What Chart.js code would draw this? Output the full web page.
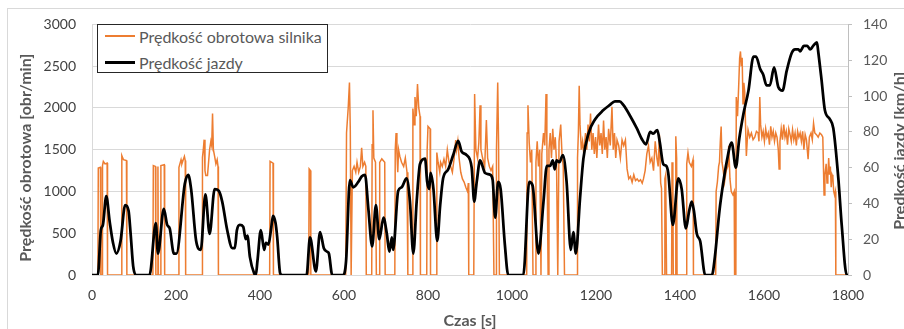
<!DOCTYPE html>
<html lang="pl">
<head>
<meta charset="utf-8">
<title>Prędkość obrotowa silnika i prędkość jazdy</title>
<script src="https://cdn.jsdelivr.net/npm/chart.js@4.4.1/dist/chart.umd.min.js"></script>
<style>
  html, body { margin: 0; padding: 0; background: #fff; }
  #wykres { position: relative; width: 904px; height: 329px; overflow: hidden; }
  #ramka { position: absolute; left: 7px; top: 8px; width: 1000px; height: 400px; border: 1px solid #d9d9d9; box-sizing: border-box; }
  #legenda { position: absolute; left: 97px; top: 24px; width: 231px; height: 49px; border: 1px solid #262626; box-sizing: border-box; background: #fff; font: 16px Lato, sans-serif; color: #595959; }
  .poz { display: flex; align-items: center; height: 26px; white-space: nowrap; }
  .poz:first-child { margin-top: -2px; }
  .probka { width: 30px; margin: 0 4px 0 7px; }
</style>
</head>
<body>
<div id="wykres">
  <div id="ramka"></div>
  <canvas id="chart"></canvas>
  <div id="legenda"></div>
</div>
<script>
// ===== dane =====
// czas [s] i prędkość jazdy [km/h]
const czasJazdy = [
  0, 14, 21, 26, 34, 42, 50, 58, 68, 79,
  87, 92, 98, 105, 137, 152, 157, 171, 179, 185,
  195, 201, 221, 229, 236, 248, 259, 270, 280, 292,
  302, 310, 322, 334, 340, 345, 352, 360, 366, 370,
  376, 386, 390, 394, 402, 410, 414, 420, 426, 431,
  437, 441, 448, 453, 511, 519, 533, 543, 552, 560,
  564, 572, 598, 605, 614, 622, 634, 642, 650, 658,
  667, 676, 684, 694, 702, 708, 714, 717, 729, 737,
  749, 757, 765, 773, 781, 793, 798, 803, 806, 813,
  822, 829, 836, 848, 860, 872, 880, 892, 904, 910,
  916, 924, 936, 948, 954, 960, 967, 973, 983, 991,
  1027, 1041, 1049, 1063, 1075, 1083, 1091, 1097, 1102, 1106,
  1113, 1121, 1130, 1140, 1146, 1152, 1162, 1170, 1182, 1198,
  1217, 1233, 1245, 1256, 1265, 1281, 1297, 1309, 1319, 1329,
  1336, 1346, 1352, 1360, 1367, 1372, 1383, 1396, 1404, 1414,
  1422, 1428, 1433, 1440, 1448, 1460, 1476, 1483, 1494, 1502,
  1511, 1523, 1533, 1541, 1551, 1563, 1575, 1581, 1591, 1598,
  1606, 1614, 1624, 1634, 1644, 1654, 1666, 1674, 1682, 1686,
  1695, 1703, 1710, 1717, 1726, 1729, 1737, 1745, 1757, 1765,
  1777, 1785, 1797, 1800
];
const predkoscJazdy = [
  0, 0, 25, 28, 44, 30, 18, 12, 19, 39,
  36, 23, 5, 0, 0, 29, 12, 37, 28, 26,
  12, 12, 51, 56, 48, 19, 14, 45, 23, 48,
  47, 41, 25, 15, 15, 25, 28, 27, 20, 22,
  10, 1, 0, 8, 25, 14, 18, 17, 25, 33,
  29, 21, 1, 0, 0, 21, 2, 24, 15, 13,
  12, 0, 0, 8, 53, 49, 52, 55, 56, 37,
  16, 39, 20, 32, 23, 13, 21, 14, 47, 49,
  54, 41, 12, 41, 62, 65, 52, 48, 57, 48,
  19, 39, 54, 59, 67, 75, 69, 67, 60, 41,
  52, 64, 57, 56, 53, 32, 52, 48, 17, 0,
  0, 52, 50, 12, 41, 61, 61, 64, 59, 64,
  63, 67, 52, 14, 24, 12, 43, 65, 79, 87,
  92, 95, 97, 97, 95, 89, 82, 76, 73, 80,
  79, 81, 74, 62, 61, 57, 28, 54, 48, 26,
  36, 41, 36, 23, 19, 0, 0, 10, 36, 50,
  63, 74, 60, 76, 90, 103, 122, 122, 115, 112,
  106, 106, 116, 105, 103, 114, 124, 126, 126, 125,
  128, 128, 126, 128, 130, 125, 109, 92, 87, 82,
  54, 28, 0, 0
];

// czas [s] i prędkość obrotowa silnika [obr/min]
const czasObrotow = [
  0, 14, 15, 20, 21, 24, 25, 27, 31, 36,
  37, 70, 71, 75, 82, 83, 145, 146, 151, 152,
  156, 157, 158, 163, 164, 172, 173, 206, 207, 212,
  214, 220, 222, 223, 262, 263, 265, 267, 269, 271,
  275, 280, 283, 285, 287, 289, 292, 295, 298, 300,
  301, 423, 424, 431, 432, 516, 517, 520, 521, 604,
  606, 610, 613, 615, 617, 619, 620, 624, 628, 631,
  635, 639, 642, 645, 649, 652, 653, 666, 667, 669,
  671, 675, 677, 684, 685, 690, 697, 698, 721, 722,
  724, 726, 728, 730, 733, 737, 742, 746, 750, 752,
  763, 764, 767, 769, 772, 775, 778, 781, 782, 797,
  798, 800, 805, 806, 820, 821, 824, 828, 830, 834,
  838, 842, 846, 850, 854, 858, 862, 866, 868, 871,
  874, 878, 882, 886, 890, 894, 896, 897, 909, 911,
  914, 918, 921, 924, 926, 930, 935, 939, 942, 946,
  950, 954, 957, 962, 963, 966, 968, 970, 1035, 1036,
  1038, 1041, 1044, 1047, 1050, 1055, 1057, 1060, 1063, 1066,
  1069, 1071, 1075, 1078, 1081, 1083, 1086, 1088, 1091, 1094,
  1097, 1100, 1103, 1106, 1109, 1112, 1116, 1119, 1122, 1125,
  1155, 1156, 1158, 1160, 1162, 1165, 1168, 1171, 1175, 1178,
  1181, 1184, 1187, 1190, 1193, 1196, 1199, 1202, 1206, 1209,
  1212, 1215, 1218, 1221, 1224, 1227, 1230, 1234, 1238, 1241,
  1244, 1247, 1250, 1254, 1258, 1262, 1266, 1270, 1274, 1278,
  1282, 1286, 1290, 1294, 1298, 1302, 1306, 1310, 1313, 1317,
  1321, 1325, 1329, 1333, 1337, 1341, 1345, 1348, 1351, 1354,
  1356, 1358, 1363, 1364, 1366, 1368, 1380, 1381, 1383, 1384,
  1389, 1390, 1392, 1393, 1415, 1416, 1419, 1422, 1427, 1431,
  1432, 1485, 1486, 1489, 1492, 1494, 1496, 1498, 1500, 1503,
  1506, 1510, 1514, 1516, 1519, 1522, 1526, 1529, 1530, 1533,
  1534, 1537, 1540, 1542, 1544, 1546, 1548, 1550, 1552, 1554,
  1556, 1558, 1560, 1562, 1566, 1570, 1574, 1578, 1582, 1586,
  1588, 1590, 1592, 1595, 1598, 1601, 1604, 1607, 1610, 1613,
  1616, 1619, 1622, 1625, 1628, 1631, 1634, 1636, 1638, 1641,
  1644, 1647, 1650, 1653, 1656, 1659, 1662, 1665, 1668, 1671,
  1674, 1677, 1680, 1683, 1686, 1689, 1692, 1695, 1698, 1701,
  1705, 1708, 1712, 1715, 1718, 1721, 1725, 1729, 1733, 1737,
  1740, 1743, 1745, 1748, 1750, 1752, 1754, 1756, 1758, 1760,
  1762, 1764, 1766, 1768, 1770, 1771, 1800
];
const obrotySilnika = [
  0, 0, 1280, 1290, 0, 0, 1310, 1360, 1330, 1340,
  0, 0, 1430, 1380, 1370, 0, 0, 1310, 1300, 0,
  0, 1300, 0, 0, 1310, 1320, 0, 0, 1290, 1380,
  1330, 1420, 1370, 0, 0, 1410, 1500, 1620, 1250, 1190,
  1190, 1500, 1600, 1550, 1934, 1500, 1420, 1330, 1380, 1300,
  0, 0, 1360, 1340, 0, 0, 1270, 1250, 0, 0,
  1700, 2000, 2305, 1740, 0, 0, 1250, 1300, 1230, 1350,
  1230, 1300, 1524, 1300, 1350, 1300, 0, 0, 1560, 1972,
  1400, 1350, 0, 0, 1348, 1390, 1350, 0, 0, 1500,
  1700, 1465, 1230, 1500, 1420, 1350, 1300, 1400, 1230, 0,
  0, 1992, 1800, 2130, 1900, 2285, 2000, 1900, 0, 0,
  1500, 1778, 1750, 0, 0, 1465, 1350, 1230, 1350, 1300,
  1387, 1300, 1500, 1350, 1300, 1230, 1387, 1614, 1500, 1605,
  1400, 1230, 1150, 1113, 1050, 1000, 1100, 0, 0, 2168,
  1500, 1400, 1580, 2031, 1500, 1400, 1300, 1855, 1400, 1300,
  1250, 1300, 0, 0, 1500, 2305, 1600, 0, 0, 1700,
  2031, 1582, 1348, 1500, 0, 0, 1350, 1600, 1300, 1500,
  0, 1450, 1700, 1550, 2168, 1600, 0, 1500, 1700, 1400,
  1750, 1500, 1650, 1350, 0, 1600, 1800, 1450, 1300, 0,
  0, 1400, 1700, 2266, 1800, 1500, 1600, 1450, 1700, 1500,
  1800, 1600, 1934, 1500, 1700, 1450, 1650, 1400, 1800, 1550,
  1700, 1450, 1850, 1500, 1650, 1400, 1750, 1550, 2013, 1500,
  1700, 1400, 1617, 1550, 1400, 1617, 1550, 1617, 1270, 1152,
  1180, 1110, 1200, 1130, 1150, 1120, 1140, 1100, 1150, 1250,
  1450, 1547, 1350, 1400, 1250, 1600, 1400, 1300, 1680, 1100,
  1035, 0, 0, 1150, 1200, 0, 0, 1350, 1196, 0,
  0, 1660, 1400, 0, 0, 1330, 1465, 1350, 1300, 1380,
  0, 0, 1000, 1113, 1300, 1350, 1600, 1778, 1350, 1250,
  1113, 1250, 1300, 1547, 1150, 1000, 960, 1000, 0, 0,
  2130, 1900, 2300, 2598, 2676, 2500, 2600, 2051, 2300, 2200,
  1800, 1426, 1600, 1738, 1650, 1700, 1620, 1650, 1720, 1700,
  1600, 2130, 1800, 1650, 1720, 1600, 1750, 1650, 1700, 1560,
  1780, 1650, 1720, 1600, 1700, 1650, 1500, 1270, 1600, 1750,
  1620, 1800, 1650, 1720, 1560, 1750, 1680, 1600, 1740, 1620,
  1700, 1550, 1720, 1650, 1700, 1600, 1720, 1500, 1680, 1620,
  1387, 1650, 1700, 1620, 1817, 1700, 1680, 1650, 1700, 1680,
  1650, 957, 1200, 1330, 1100, 1170, 1400, 1200, 1300, 1050,
  1200, 1170, 1000, 957, 1000, 0, 0
];

// podziałki osi
const osCzasu = [0, 200, 400, 600, 800, 1000, 1200, 1400, 1600, 1800];
const osObrotow = [0, 500, 1000, 1500, 2000, 2500, 3000];
const osPredkosci = [0, 20, 40, 60, 80, 100, 120, 140];

const punkty = (t, v) => t.map((x, i) => ({ x: x, y: v[i] }));
const bezSeparatora = (v) => String(v);

const FONT = "Lato, 'Open Sans', sans-serif";
const SZARY = "#595959";

// tytuły osi pionowych (oba czytane od dołu do góry)
const tytulyOsi = {
  id: "tytulyOsi",
  afterDraw(chart) {
    const { ctx, chartArea } = chart;
    const srodek = (chartArea.top + chartArea.bottom) / 2;
    ctx.save();
    ctx.font = "bold 16px " + FONT;
    ctx.fillStyle = SZARY;
    ctx.textAlign = "center";
    ctx.textBaseline = "middle";
    ctx.translate(chartArea.left - 66, srodek + 8);
    ctx.rotate(-Math.PI / 2);
    ctx.fillText("Prędkość obrotowa [obr/min]", 0, 0);
    ctx.restore();
    ctx.save();
    ctx.font = "bold 16px " + FONT;
    ctx.fillStyle = SZARY;
    ctx.textAlign = "center";
    ctx.textBaseline = "middle";
    ctx.translate(chartArea.right + 52, srodek + 1);
    ctx.rotate(-Math.PI / 2);
    ctx.fillText("Prędkość jazdy [km/h]", 0, 0);
    ctx.restore();
  }
};

const chart = new Chart(document.getElementById("chart"), {
  type: "line",
  data: {
    datasets: [
      { label: "Prędkość obrotowa silnika", data: punkty(czasObrotow, obrotySilnika), yAxisID: "y",
        borderColor: "#ed7d31", backgroundColor: "#ed7d31", borderWidth: 1.5, pointRadius: 0, order: 1 },
      { label: "Prędkość jazdy", data: punkty(czasJazdy, predkoscJazdy), yAxisID: "y2",
        borderColor: "#000000", backgroundColor: "#000000", borderWidth: 2.75, pointRadius: 0,
        cubicInterpolationMode: "monotone", order: 0 }
    ]
  },
  options: {
    responsive: true, maintainAspectRatio: false, animation: false,
    layout: { padding: { left: 10, top: 19, right: 0, bottom: 0 } },
    plugins: { legend: { display: false }, tooltip: { enabled: false } },
    scales: {
      x: {
        type: "linear", min: osCzasu[0], max: osCzasu[osCzasu.length - 1],
        afterBuildTicks: (s) => { s.ticks = osCzasu.map((v) => ({ value: v })); },
        ticks: { color: "#404040", font: { family: FONT, size: 14 }, padding: 12, maxRotation: 0, autoSkip: false, callback: bezSeparatora },
        grid: { display: false, drawTicks: false },
        border: { display: false },
        title: { display: true, text: "Czas [s]", color: SZARY, font: { family: FONT, size: 16, weight: "bold", lineHeight: 1 }, padding: 0 },
        afterFit: (s) => { s.height = 54; }
      },
      y: {
        position: "left", min: osObrotow[0], max: osObrotow[osObrotow.length - 1],
        afterBuildTicks: (s) => { s.ticks = osObrotow.map((v) => ({ value: v })); },
        ticks: { color: "#404040", font: { family: FONT, size: 14 }, padding: 16, callback: bezSeparatora },
        grid: { color: "#d9d9d9", drawTicks: false },
        border: { color: "#d9d9d9" },
        afterFit: (s) => { s.width = 82; }
      },
      y2: {
        position: "right", min: osPredkosci[0], max: osPredkosci[osPredkosci.length - 1],
        afterBuildTicks: (s) => { s.ticks = osPredkosci.map((v) => ({ value: v })); },
        ticks: { color: SZARY, font: { family: FONT, size: 14 }, padding: 11, callback: bezSeparatora },
        grid: { drawOnChartArea: false, color: "#bfbfbf", tickLength: 4 },
        border: { color: "#bfbfbf" },
        afterFit: (s) => { s.width = 56; }
      }
    }
  },
  plugins: [tytulyOsi]
});

// legenda w ramce, jak w oryginale
const legenda = document.getElementById("legenda");
chart.data.datasets.forEach((ds) => {
  const poz = document.createElement("div");
  poz.className = "poz";
  const probka = document.createElement("span");
  probka.className = "probka";
  probka.style.height = Math.round(ds.borderWidth) + "px";
  probka.style.background = ds.borderColor;
  const tekst = document.createElement("span");
  tekst.textContent = ds.label;
  poz.appendChild(probka);
  poz.appendChild(tekst);
  legenda.appendChild(poz);
});
</script>
</body>
</html>
